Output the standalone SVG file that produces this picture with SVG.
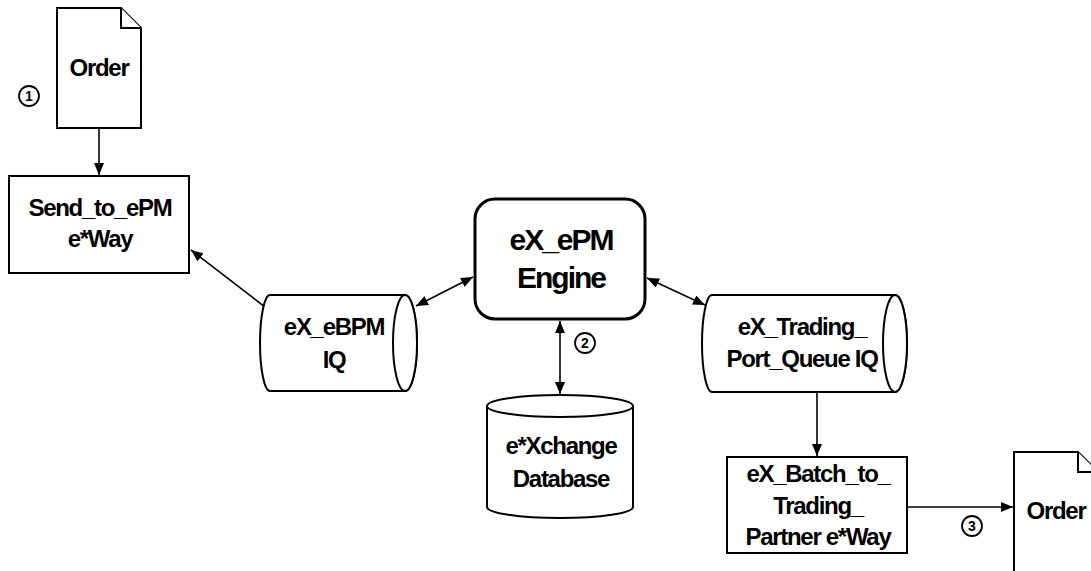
<svg xmlns="http://www.w3.org/2000/svg" width="1091" height="571" viewBox="0 0 1091 571">
<defs>
<style>
.shape{fill:#fff;stroke:#000;stroke-width:2}
.eng{fill:#fff;stroke:#000;stroke-width:3}
.lbl{font-family:"Liberation Sans",Arial,sans-serif;font-weight:bold;font-size:24px;letter-spacing:-1.3px;text-anchor:middle;fill:#000}
.big{font-family:"Liberation Sans",Arial,sans-serif;font-weight:bold;font-size:30px;letter-spacing:-2px;text-anchor:middle;fill:#000}
.num{font-family:"Liberation Sans",Arial,sans-serif;font-weight:bold;font-size:14px;text-anchor:middle;fill:#000}
.circ{fill:none;stroke:#000;stroke-width:1.8}
.conn{fill:none;stroke:#000;stroke-width:1.6}
</style>
<marker id="ah" viewBox="0 0 12 10" refX="12" refY="5" markerWidth="12" markerHeight="10" markerUnits="userSpaceOnUse" orient="auto-start-reverse">
<path d="M0,0 L12,5 L0,10 z" fill="#000"/>
</marker>
</defs>
<rect width="1091" height="571" fill="#fff"/>

<g id="connectors">
<line class="conn" x1="99" y1="128" x2="99" y2="175" marker-end="url(#ah)"/>
<line class="conn" x1="265" y1="307" x2="191" y2="250" marker-end="url(#ah)"/>
<line class="conn" x1="473" y1="277" x2="416" y2="306" marker-start="url(#ah)" marker-end="url(#ah)"/>
<line class="conn" x1="647" y1="278" x2="705" y2="305" marker-start="url(#ah)" marker-end="url(#ah)"/>
<line class="conn" x1="560" y1="321" x2="560" y2="394" marker-start="url(#ah)" marker-end="url(#ah)"/>
<line class="conn" x1="817" y1="392" x2="817" y2="456" marker-end="url(#ah)"/>
<line class="conn" x1="907" y1="507" x2="1013" y2="507" marker-end="url(#ah)"/>
</g>

<g id="order1">
<path class="shape" d="M57,8 L121,8 L141,28 L141,128 L57,128 Z"/>
<path class="shape" d="M121,8 L121,28 L141,28" fill="none"/>
<text class="lbl" x="99" y="76">Order</text>
</g>

<g id="step1">
<circle class="circ" cx="29" cy="96" r="10"/>
<text class="num" x="29" y="101">1</text>
</g>

<g id="send_to_epm">
<rect class="shape" x="9" y="176" width="180" height="97"/>
<text class="lbl" x="100" y="216">Send_to_ePM</text>
<text class="lbl" x="100" y="247">e*Way</text>
</g>

<g id="ebpm_iq">
<path class="shape" d="M270,295 L405,295 A12,48 0 0 1 405,391 L270,391 A10,48 0 0 1 270,295 Z"/>
<ellipse class="shape" cx="405" cy="343" rx="12" ry="48"/>
<text class="lbl" x="334" y="335">eX_eBPM</text>
<text class="lbl" x="334" y="368">IQ</text>
</g>

<g id="engine">
<rect class="eng" x="475" y="199" width="170" height="120" rx="20" ry="20"/>
<text class="big" x="561" y="250">eX_ePM</text>
<text class="big" x="561" y="288">Engine</text>
</g>

<g id="step2">
<circle class="circ" cx="585" cy="343" r="10"/>
<text class="num" x="585" y="348">2</text>
</g>

<g id="database">
<path class="shape" d="M487,406 A73,11 0 0 1 633,406 L633,507 A73,11 0 0 1 487,507 Z"/>
<path class="shape" d="M487,406 A73,11 0 0 0 633,406" fill="none"/>
<text class="lbl" x="561" y="454">e*Xchange</text>
<text class="lbl" x="561" y="487">Database</text>
</g>

<g id="trading_iq">
<path class="shape" d="M712,295 L895,295 A12,48.5 0 0 1 895,392 L712,392 A10,48.5 0 0 1 712,295 Z"/>
<ellipse class="shape" cx="895" cy="343.5" rx="12" ry="48.5"/>
<text class="lbl" x="802" y="335">eX_Trading_</text>
<text class="lbl" x="802" y="367">Port_Queue IQ</text>
</g>

<g id="batch_eway">
<rect class="shape" x="727" y="457" width="180" height="96"/>
<text class="lbl" x="818" y="482">eX_Batch_to_</text>
<text class="lbl" x="818" y="513.5">Trading_</text>
<text class="lbl" x="818" y="545">Partner e*Way</text>
</g>

<g id="step3">
<circle class="circ" cx="972" cy="526" r="10"/>
<text class="num" x="972" y="531">3</text>
</g>

<g id="order2">
<path class="shape" d="M1014,452 L1078,452 L1098,472 L1098,572 L1014,572 Z"/>
<path class="shape" d="M1078,452 L1078,472 L1098,472" fill="none"/>
<text class="lbl" x="1056" y="519">Order</text>
</g>
</svg>
